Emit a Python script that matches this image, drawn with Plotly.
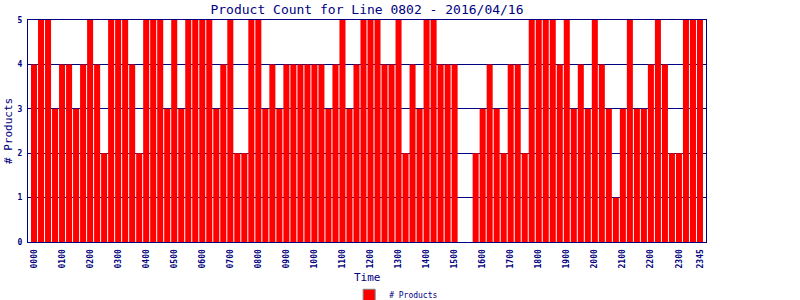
import plotly.graph_objects as go

times = [f"{h:02d}{m:02d}" for h in range(24) for m in (0, 15, 30, 45)]
counts = [4,5,5,3,4,4,3,4,5,4,2,5,5,5,4,2,5,5,5,3,5,3,5,5,5,5,3,4,5,2,2,5,5,
          3,4,3,4,4,4,4,4,4,3,4,5,3,4,5,5,5,4,4,5,2,4,3,5,5,4,4,4,
          0,0,2,3,4,3,2,
          4,4,2,5,5,5,5,4,5,3,4,3,5,4,3,1,3,5,3,3,4,5,4,2,2,5,5,5]
tick_labels = [f"{h:02d}00" for h in range(24)] + ["2345"]
y_ticks = [0, 1, 2, 3, 4, 5]

title = "Product Count for Line 0802 - 2016/04/16"
series_name = "# Products"
x_title = "Time"
y_title = "# Products"

NAVY = "#000080"
RED = "#FF0000"
FONT = "DejaVu Sans Mono"

idx = list(range(len(times)))
tick_idx = [times.index(t) for t in tick_labels]

fig = go.Figure()
fig.add_trace(go.Bar(x=idx, y=counts, marker=dict(color=RED, line=dict(width=0)),
                     showlegend=False, hovertext=times))
fig.add_trace(go.Bar(x=[None], y=[None], name=series_name,
                     marker=dict(color=RED, line=dict(color="#808080", width=1)),
                     showlegend=True))

fig.update_layout(
    width=800, height=300,
    margin=dict(l=28, r=94, t=20, b=58, autoexpand=False),
    paper_bgcolor="white", plot_bgcolor="white",
    bargap=0.14,
    title=dict(text=title, x=367/800, xanchor="center", y=1-9/300, yanchor="middle",
               font=dict(family=FONT, size=13, color=NAVY)),
    showlegend=True,
    legend=dict(orientation="h", x=0.543, xanchor="center", y=-0.24, yanchor="middle",
                font=dict(family=FONT, size=8, color=NAVY), itemwidth=30,
                bgcolor="rgba(0,0,0,0)"),
    xaxis=dict(range=[-0.86, 95.86], tickmode="array", tickvals=tick_idx, ticktext=tick_labels,
               tickangle=-90, tickfont=dict(family=FONT, size=8, color=NAVY, weight="bold"),
               showgrid=False, zeroline=False, showline=True, linecolor=NAVY, linewidth=1,
               mirror=True, ticks="outside", ticklen=3, tickcolor="rgba(0,0,0,0)",
               automargin=False),
    yaxis=dict(range=[0, 5], tickmode="array", tickvals=y_ticks,
               tickfont=dict(family=FONT, size=8, color=NAVY, weight="bold"),
               showgrid=True, gridcolor=NAVY, gridwidth=1, zeroline=False,
               showline=True, linecolor=NAVY, linewidth=1, mirror=True,
               ticks="outside", ticklen=3, tickcolor="rgba(0,0,0,0)",
               automargin=False),
    annotations=[
        dict(text=x_title, xref="paper", yref="paper", x=0.5, y=-0.16, yanchor="middle",
             showarrow=False, font=dict(family=FONT, size=11, color=NAVY)),
        dict(text=y_title, xref="paper", yref="paper", x=0, xanchor="center", xshift=-20,
             y=0.5, yanchor="middle",
             textangle=-90, showarrow=False, font=dict(family=FONT, size=11, color=NAVY)),
    ],
)

fig.write_html("out.html")
